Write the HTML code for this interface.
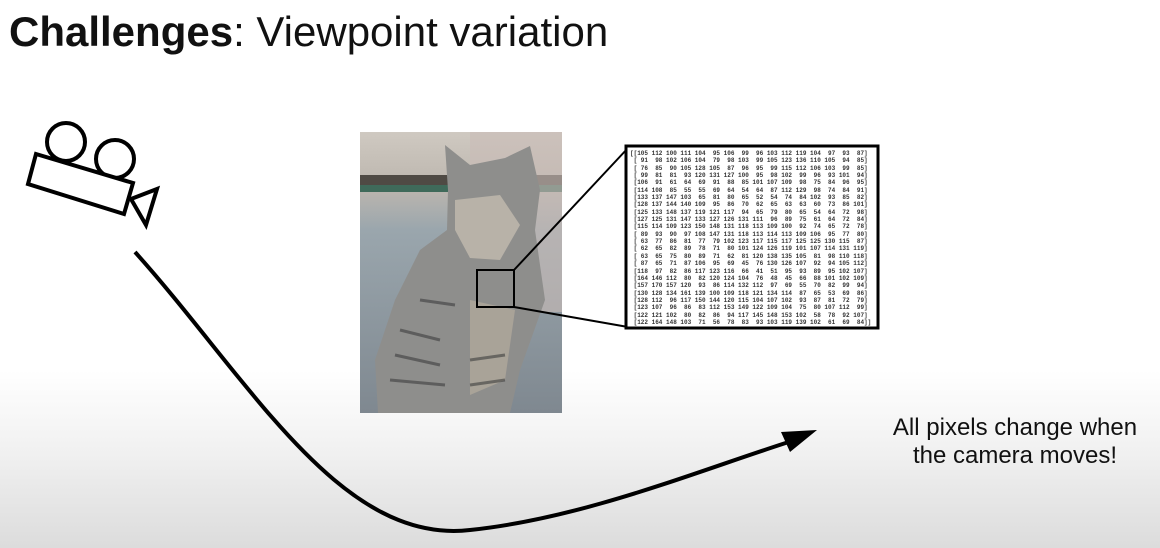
<!DOCTYPE html>
<html><head><meta charset="utf-8"><style>
html,body{margin:0;padding:0}
body{width:1160px;height:548px;overflow:hidden;position:relative;font-family:"Liberation Sans",sans-serif;background:linear-gradient(to bottom,#fff 0px,#fff 370px,#f3f3f3 440px,#dcdcdc 548px)}
.t{position:absolute;left:9px;top:8px;font-size:42px;color:#111;white-space:nowrap}
.m{position:absolute;left:630px;top:150px;width:246px;height:176px;font-family:"Liberation Mono",monospace;font-size:6px;line-height:7.35px;color:#333;white-space:pre;overflow:hidden;font-weight:bold}
.c{position:absolute;left:860px;top:414px;width:310px;text-align:center;font-size:24px;line-height:28px;color:#111}
</style></head><body>
<div class="t"><b>Challenges</b>: Viewpoint variation</div>
<svg width="1160" height="548" style="position:absolute;left:0;top:0">
<defs>
<linearGradient id="bg" x1="0" y1="0" x2="0" y2="1"><stop offset="0" stop-color="#cfc9c1"/><stop offset="0.2" stop-color="#bcb6ae"/><stop offset="0.35" stop-color="#9aa6ad"/><stop offset="1" stop-color="#7f8890"/></linearGradient>
</defs>
<rect x="360" y="132" width="202" height="281" fill="url(#bg)"/>
<rect x="360" y="175" width="202" height="10" fill="#4f4a44"/>
<rect x="360" y="185" width="202" height="7" fill="#3f6a5a"/>
<rect x="470" y="132" width="92" height="180" fill="#c9bdb8" opacity="0.6"/>
<path d="M445,145 L470,165 L505,158 L530,146 L540,190 L535,230 L545,300 L520,370 L510,413 L378,413 L375,360 L395,300 L420,250 L447,230 L448,190 Z" fill="#8e8e8c"/>
<path d="M455,200 L500,195 L520,225 L500,260 L470,258 L455,230 Z" fill="#b8b2a8"/>
<path d="M470,300 L515,310 L505,380 L470,395 Z" fill="#a9a398"/>
<g stroke="#3e3e3e" stroke-width="3" opacity="0.6">
<path d="M400,330 L440,340 M395,355 L440,365 M390,380 L445,385 M420,300 L455,305 M470,360 L505,355 M470,385 L505,380"/>
</g>
<rect x="477" y="270" width="37" height="37" fill="none" stroke="#000" stroke-width="2"/>
<line x1="514" y1="270" x2="628" y2="148" stroke="#000" stroke-width="2"/>
<line x1="514" y1="307" x2="628" y2="327" stroke="#000" stroke-width="2"/>
<rect x="626" y="146" width="252" height="182" fill="#fff" stroke="#000" stroke-width="3"/>
<g fill="none" stroke="#000" stroke-width="4">
<circle cx="66" cy="142" r="19"/>
<circle cx="115" cy="159" r="19"/>
<polygon points="36,154 133,183 124,214 28,184" fill="#fff"/>
<polygon points="131,199 157,189 146,225"/>
<path d="M135,252 C250,380 340,545 470,530 C585,518 700,470 795,440"/>
</g>
<polygon points="817,430 781,432 790,452" fill="#000"/>
</svg>
<div class="m">[[105 112 100 111 104  95 106  99  96 103 112 119 104  97  93  87]
 [ 91  98 102 106 104  79  98 103  99 105 123 136 110 105  94  85]
 [ 76  85  90 105 128 105  87  96  95  99 115 112 106 103  99  85]
 [ 99  81  81  93 120 131 127 100  95  98 102  99  96  93 101  94]
 [106  91  61  64  69  91  88  85 101 107 109  98  75  84  96  95]
 [114 108  85  55  55  69  64  54  64  87 112 129  98  74  84  91]
 [133 137 147 103  65  81  80  65  52  54  74  84 102  93  85  82]
 [128 137 144 140 109  95  86  70  62  65  63  63  60  73  86 101]
 [125 133 148 137 119 121 117  94  65  79  80  65  54  64  72  98]
 [127 125 131 147 133 127 126 131 111  96  89  75  61  64  72  84]
 [115 114 109 123 150 148 131 118 113 109 100  92  74  65  72  78]
 [ 89  93  90  97 108 147 131 118 113 114 113 109 106  95  77  80]
 [ 63  77  86  81  77  79 102 123 117 115 117 125 125 130 115  87]
 [ 62  65  82  89  78  71  80 101 124 126 119 101 107 114 131 119]
 [ 63  65  75  80  89  71  62  81 120 138 135 105  81  98 110 118]
 [ 87  65  71  87 106  95  69  45  76 130 126 107  92  94 105 112]
 [118  97  82  86 117 123 116  66  41  51  95  93  89  95 102 107]
 [164 146 112  80  82 120 124 104  76  48  45  66  88 101 102 109]
 [157 170 157 120  93  86 114 132 112  97  69  55  70  82  99  94]
 [130 128 134 161 139 100 109 118 121 134 114  87  65  53  69  86]
 [128 112  96 117 150 144 120 115 104 107 102  93  87  81  72  79]
 [123 107  96  86  83 112 153 149 122 109 104  75  80 107 112  99]
 [122 121 102  80  82  86  94 117 145 148 153 102  58  78  92 107]
 [122 164 148 103  71  56  78  83  93 103 119 139 102  61  69  84]]</div>
<div class="c">All pixels change when<br>the camera moves!</div>
</body></html>
